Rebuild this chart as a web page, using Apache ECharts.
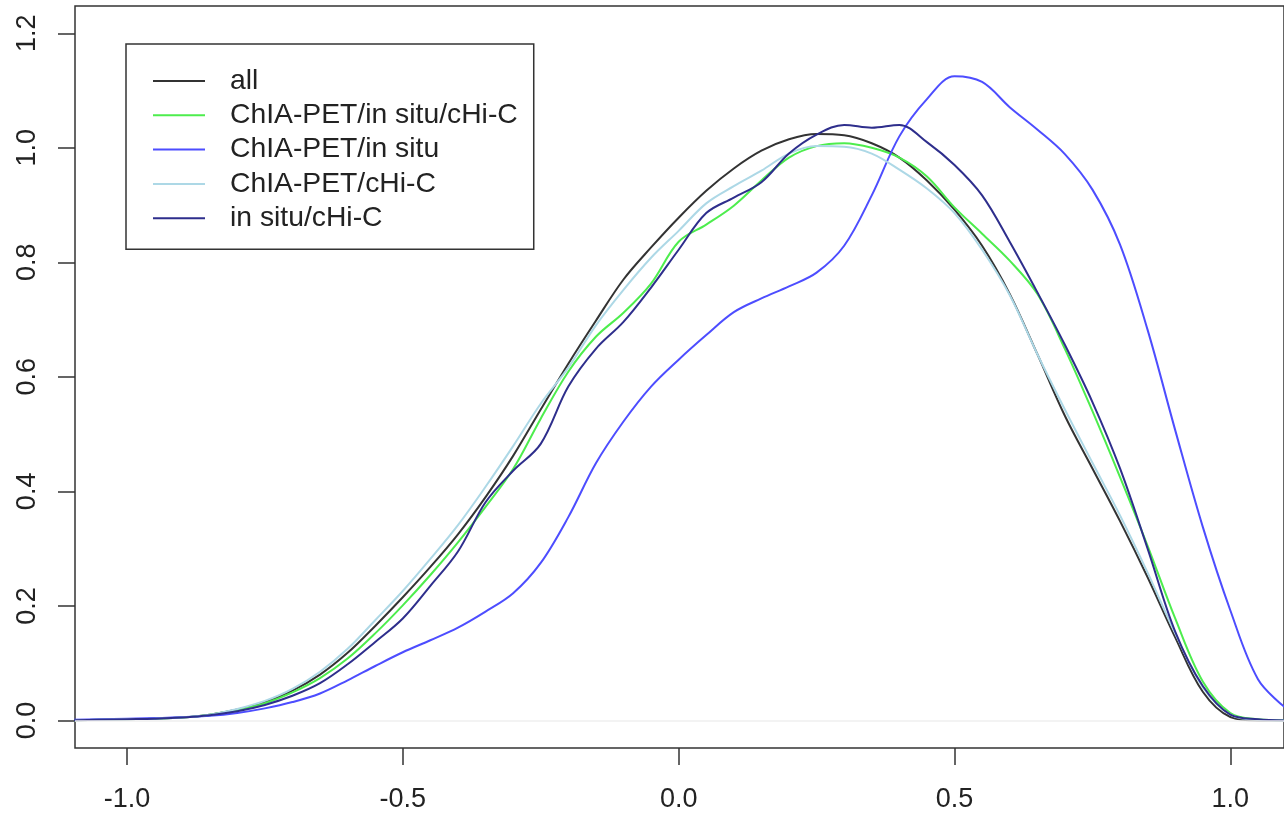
<!DOCTYPE html>
<html>
<head>
<meta charset="utf-8">
<script src="https://cdn.jsdelivr.net/npm/echarts@6/dist/echarts.min.js"></script>
<style>
  html, body { margin: 0; padding: 0; background: #fff; }
  #chart { width: 1284px; height: 816px; }
</style>
</head>
<body>
<div id="chart"></div>
<script>
const xs = [-1.1, -1.05, -1.0, -0.95, -0.9, -0.85, -0.8, -0.75, -0.7, -0.65, -0.6, -0.55, -0.5, -0.45, -0.4, -0.35, -0.3, -0.25, -0.2, -0.15, -0.1, -0.05,
  0.0, 0.05, 0.1, 0.15, 0.2, 0.25, 0.3, 0.35, 0.4, 0.45, 0.5, 0.55, 0.6, 0.65, 0.7, 0.75, 0.8, 0.85, 0.9, 0.95, 1.0, 1.05, 1.1];

const seriesNames = ["all", "ChIA-PET/in situ/cHi-C", "ChIA-PET/in situ", "ChIA-PET/cHi-C", "in situ/cHi-C"];

const allVals = [0.000, 0.001, 0.002, 0.003, 0.005, 0.010, 0.019, 0.032, 0.052, 0.080, 0.118, 0.165, 0.215, 0.268, 0.325, 0.390, 0.462, 0.543, 0.623, 0.698, 0.770, 0.826,
  0.878, 0.925, 0.964, 0.995, 1.015, 1.024, 1.022, 1.008, 0.983, 0.943, 0.892, 0.829, 0.745, 0.640, 0.532, 0.440, 0.348, 0.250, 0.145, 0.050, 0.006, 0.000, 0.000];

const chiaInsituChicVals = [0.000, 0.001, 0.002, 0.003, 0.005, 0.010, 0.018, 0.030, 0.049, 0.074, 0.108, 0.152, 0.201, 0.254, 0.311, 0.373, 0.439, 0.527, 0.609, 0.670, 0.712, 0.763,
  0.836, 0.866, 0.899, 0.943, 0.983, 1.003, 1.008, 1.000, 0.983, 0.950, 0.896, 0.850, 0.803, 0.745, 0.649, 0.540, 0.425, 0.305, 0.178, 0.068, 0.013, 0.002, 0.000];

const chiaInsituVals = [0.001, 0.002, 0.003, 0.004, 0.006, 0.008, 0.013, 0.021, 0.032, 0.047, 0.070, 0.095, 0.119, 0.140, 0.162, 0.190, 0.222, 0.275, 0.355, 0.449, 0.522, 0.583,
  0.630, 0.673, 0.713, 0.737, 0.758, 0.782, 0.829, 0.917, 1.020, 1.085, 1.125, 1.115, 1.071, 1.032, 0.989, 0.927, 0.831, 0.682, 0.507, 0.338, 0.192, 0.072, 0.022];

const chiaChicVals = [0.000, 0.001, 0.002, 0.003, 0.005, 0.010, 0.020, 0.034, 0.055, 0.085, 0.125, 0.175, 0.226, 0.282, 0.341, 0.408, 0.479, 0.553, 0.616, 0.690, 0.752, 0.808,
  0.855, 0.903, 0.933, 0.960, 0.990, 1.003, 1.002, 0.990, 0.962, 0.929, 0.886, 0.822, 0.743, 0.640, 0.543, 0.450, 0.358, 0.258, 0.152, 0.058, 0.010, 0.001, 0.000];

const insituChicVals = [0.000, 0.001, 0.002, 0.003, 0.005, 0.009, 0.016, 0.027, 0.043, 0.065, 0.098, 0.137, 0.178, 0.235, 0.295, 0.381, 0.436, 0.483, 0.583, 0.649, 0.696, 0.756,
  0.822, 0.886, 0.913, 0.940, 0.990, 1.023, 1.040, 1.035, 1.040, 1.010, 0.970, 0.917, 0.836, 0.748, 0.656, 0.556, 0.440, 0.300, 0.155, 0.060, 0.010, 0.002, 0.000];

const xTicks = [-1.0, -0.5, 0.0, 0.5, 1.0];
const yTicks = [0.0, 0.2, 0.4, 0.6, 0.8, 1.0, 1.2];

const seriesValues = [allVals, chiaInsituChicVals, chiaInsituVals, chiaChicVals, insituChicVals];
const seriesColors = ["#333333", "#4ded4d", "#4d4dff", "#add8e6", "#2e2e8c"];

const FONT = "Liberation Sans, Arial, sans-serif";
const chart = echarts.init(document.getElementById('chart'), null, { renderer: 'canvas' });

const series = seriesNames.map((name, i) => ({
  name: name,
  type: 'line',
  data: xs.map((x, j) => [x, seriesValues[i][j]]),
  smooth: 0.35,
  symbol: 'none',
  clip: true,
  lineStyle: { color: seriesColors[i], width: 2 },
  itemStyle: { color: seriesColors[i] },
  z: 3
}));
// faint reference line at zero (drawn beneath the curves)
series.push({
  name: 'zero',
  type: 'line',
  data: [],
  symbol: 'none',
  silent: true,
  z: 1,
  markLine: {
    silent: true,
    symbol: ['none', 'none'],
    label: { show: false },
    lineStyle: { color: '#efefef', width: 1.5, type: 'solid' },
    data: [{ yAxis: 0 }]
  }
});

chart.setOption({
  backgroundColor: '#ffffff',
  animation: false,
  grid: {
    left: 75, top: 6, right: -2, bottom: 68,
    show: true, borderColor: '#333333', borderWidth: 1.5, backgroundColor: 'transparent'
  },
  xAxis: {
    type: 'value',
    min: -1.0941, max: 1.0972,
    axisLine: { show: false, onZero: false },
    splitLine: { show: false },
    axisTick: { show: true, length: 17, inside: false, lineStyle: { color: '#333', width: 1.5 }, customValues: xTicks },
    axisLabel: {
      show: true, customValues: xTicks, margin: 38,
      fontFamily: FONT, fontSize: 27, color: '#222',
      formatter: v => v.toFixed(1)
    }
  },
  yAxis: {
    type: 'value',
    min: -0.0482, max: 1.2477,
    axisLine: { show: false, onZero: false },
    splitLine: { show: false },
    axisTick: { show: true, length: 17, inside: false, lineStyle: { color: '#333', width: 1.5 }, customValues: yTicks },
    axisLabel: {
      show: true, customValues: yTicks, margin: 34, rotate: 90,
      align: 'center', verticalAlign: 'bottom',
      fontFamily: FONT, fontSize: 27, color: '#222',
      formatter: v => v.toFixed(1)
    }
  },
  legend: {
    data: seriesNames,
    orient: 'vertical',
    left: 126, top: 44,
    padding: [22, 16, 16, 27],
    icon: 'rect',
    itemWidth: 52, itemHeight: 2, itemGap: 4.3,
    borderColor: '#333', borderWidth: 1.5, backgroundColor: '#ffffff',
    selectedMode: false,
    textStyle: { fontFamily: FONT, fontSize: 28.3, color: '#222', lineHeight: 30, padding: [0, 0, 0, 20] }
  },
  series: series
});
</script>
</body>
</html>
